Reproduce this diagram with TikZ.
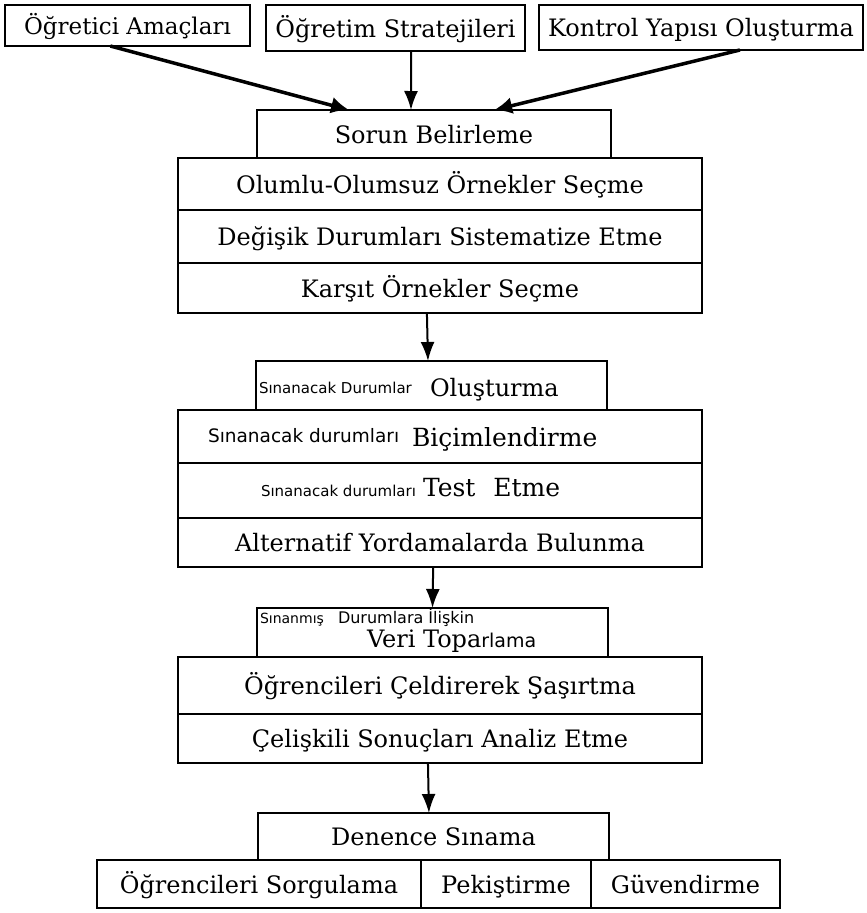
\documentclass[tikz,border=0pt]{standalone}
\usepackage{fontspec}
\setmainfont{DejaVu Serif}
\newfontfamily\hw{DejaVu Sans}
\usetikzlibrary{arrows.meta,calc}
\tikzset{
  box/.style={draw, line width=1.8pt, inner sep=0pt, outer sep=0pt, text height=21pt, text depth=3pt, font=\fontsize{24}{27}\selectfont},
  lbl/.style={inner sep=0pt, outer sep=0pt, font=\fontsize{24}{27}\selectfont},
  arr/.style={line width=2pt, -{Latex[length=19pt,width=14pt]}},
  tarr/.style={line width=3.5pt, -{Latex[length=18pt,width=17pt]}},
  hwt/.style={inner sep=0pt, outer sep=0pt, font=\hw\fontsize{15}{16}\selectfont},
}
\newcommand\bx[6]{\node[box, minimum width={(#4-#2)*1pt}, minimum height={(#5-#3)*1pt}] (#1) at ({(#2+#4)/2},{(#3+#5)/2}) {#6};}
\begin{document}
\begin{tikzpicture}[x=1pt,y=-1pt]
\useasboundingbox (0,0) rectangle (867,913);
\bx{t1}{5}{5}{250}{46}{\fontsize{23}{26}\selectfont Öğretici Amaçları}
\bx{t2}{266}{5}{525}{51}{Öğretim Stratejileri}
\bx{t3}{539}{5}{863}{50}{Kontrol Yapısı Oluşturma}
\bx{s1}{257}{110}{611}{158}{Sorun Belirleme}
\bx{r1}{178}{158}{702}{210}{Olumlu-Olumsuz Örnekler Seçme}
\bx{r2}{178}{210}{702}{263}{Değişik Durumları Sistematize Etme}
\bx{r3}{178}{263}{702}{313}{Karşıt Örnekler Seçme}
\bx{s2}{256}{361}{607}{410}{}
\bx{r4}{178}{410}{702}{463}{}
\bx{r5}{178}{463}{702}{518}{}
\bx{r6}{178}{518}{702}{567}{Alternatif Yordamalarda Bulunma}
\bx{s3}{257}{608}{608}{657}{}
\bx{r7}{178}{657}{702}{714}{Öğrencileri Çeldirerek Şaşırtma}
\bx{r8}{178}{714}{702}{763}{Çelişkili Sonuçları Analiz Etme}
\bx{s4}{258}{813}{609}{860}{Denence Sınama}
\bx{b1}{97}{860}{421}{908}{Öğrencileri Sorgulama}
\bx{b2}{421}{860}{591}{908}{Pekiştirme}
\bx{b3}{591}{860}{780}{908}{Güvendirme}
% mixed handwritten / printed labels
\node[hwt, anchor=base west] (s2h) at (259,393) {Sınanacak Durumlar};
\node[lbl, anchor=base west] (s2p) at (430,396) {Oluşturma};
\node[hwt, anchor=base west, font=\hw\fontsize{18.5}{20}\selectfont] (r4h) at (208,442) {Sınanacak durumları};
\node[lbl, anchor=base west, font=\fontsize{25}{28}\selectfont] (r4p) at (412,446) {Biçimlendirme};
\node[hwt, anchor=base west] (r5h) at (261,496) {Sınanacak durumları};
\node[lbl, anchor=base west, font=\fontsize{25}{28}\selectfont] (r5p) at (423,496) {Test\hspace{18pt}Etme};
\node[hwt, anchor=base west, font=\hw\fontsize{14}{15}\selectfont] (s3h1) at (260,623) {Sınanmış};
\node[hwt, anchor=base west, font=\hw\fontsize{16}{17}\selectfont] (s3h2) at (338,623) {Durumlara İlişkin};
\node[lbl, anchor=base west] (s3p) at (367,647) {Veri Topa{\hw\fontsize{19}{20}\selectfont rlama}};
% connectors
\draw[tarr] ($(t1.south west)!0.43!(t1.south east)$) -- ($(s1.north west)!0.26!(s1.north east)$);
\draw[arr] ($(t2.south west)!0.56!(t2.south east)$) -- ($(s1.north west)!0.435!(s1.north east)$);
\draw[tarr] ($(t3.south west)!0.62!(t3.south east)$) -- ($(s1.north west)!0.67!(s1.north east)$);
\draw[arr] ($(r3.south west)!0.475!(r3.south east)$) -- ($(s2.north west)!0.49!(s2.north east)$);
\draw[arr] ($(r6.south west)!0.487!(r6.south east)$) -- ($(s3.north west)!0.5!(s3.north east)$);
\draw[arr] ($(r8.south west)!0.477!(r8.south east)$) -- ($(s4.north west)!0.487!(s4.north east)$);
\end{tikzpicture}
\end{document}
